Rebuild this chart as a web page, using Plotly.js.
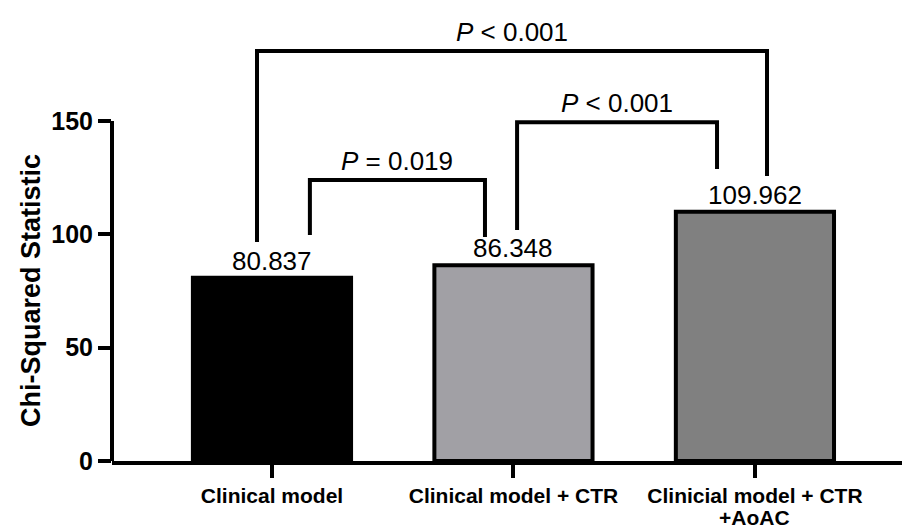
<!DOCTYPE html>
<html>
<head>
<meta charset="utf-8">
<script src="https://cdn.plot.ly/plotly-3.0.1.min.js"></script>
<style>html,body{margin:0;padding:0;background:#fff;}#chart{width:902px;height:529px;}</style>
</head>
<body>
<div id="chart"></div>
<script>
// ---- data ----
const categories = ['Clinical model', 'Clinical model + CTR', 'Clinicial model + CTR<br>+AoAC'];
const values = [80.837, 86.348, 109.962];
const valueLabels = ['80.837', '86.348', '109.962'];
const comparisonPairs = [[0, 1], [1, 2], [0, 2]];
const comparisonLabels = ['<i>P</i> = 0.019', '<i>P</i> &lt; 0.001', '<i>P</i> &lt; 0.001'];
const yTicks = [0, 50, 100, 150];
const yTitle = 'Chi-Squared Statistic';

// ---- styling / geometry ----
const barColors = ['#000000', '#a1a0a5', '#808080'];
const FONT = 'Liberation Sans, Arial, sans-serif';
// bracket geometry: leg offsets (category units) and heights (y units)
const bracketGeom = [
  {lo: 0.157, ro: -0.118, top: 124.0, lb: 99.7, rb: 98.8},
  {lo: 0.015, ro: -0.157, top: 149.5, lb: 101.9, rb: 128.8},
  {lo: -0.062, ro: 0.05, top: 180.9, lb: 96.6, rb: 125.7}
];

const shapes = [];
const annotations = [];

// y axis line only up to 150
shapes.push({type: 'line', xref: 'paper', yref: 'y', x0: 0, x1: 0, y0: -0.9, y1: 150,
  line: {color: '#000', width: 4}});

comparisonPairs.forEach((p, i) => {
  const g = bracketGeom[i];
  const xl = p[0] + g.lo, xr = p[1] + g.ro;
  shapes.push({type: 'path', xref: 'x', yref: 'y',
    path: `M ${xl} ${g.lb} L ${xl} ${g.top} L ${xr} ${g.top} L ${xr} ${g.rb}`,
    line: {color: '#000', width: 4}});
  annotations.push({xref: 'x', yref: 'y', x: (xl + xr) / 2, y: g.top, yanchor: 'bottom',
    yshift: 2, text: comparisonLabels[i], showarrow: false,
    font: {family: FONT, size: 26, color: '#000'}});
});

values.forEach((v, i) => {
  annotations.push({xref: 'x', yref: 'y', x: i, y: v, yanchor: 'bottom', yshift: 0,
    text: valueLabels[i], showarrow: false,
    font: {family: FONT, size: 26, color: '#000'}});
});

// category labels: first line as tick label, following lines as tighter annotations
const tickLines = categories.map(c => c.split('<br>'));
const tickFont = {family: FONT, size: 21, weight: 'bold', color: '#000'};
tickLines.forEach((lines, i) => {
  lines.slice(1).forEach((ln, k) => {
    annotations.push({xref: 'x', yref: 'paper', x: i, y: 0, yanchor: 'middle',
      yshift: -56 - 24 * k, text: ln, showarrow: false, font: tickFont});
  });
});

// y-axis title centred on the 0-150 axis segment
annotations.push({xref: 'paper', yref: 'y', x: 0, y: 75, xanchor: 'center', yanchor: 'middle',
  xshift: -81, textangle: -90, text: yTitle, showarrow: false,
  font: {family: FONT, size: 27, weight: 'bold', color: '#000'}});

const trace = {
  type: 'bar', x: [0, 1, 2], y: values, width: 0.655,
  marker: {color: barColors, line: {color: '#000', width: 4}},
  hoverinfo: 'none'
};

const layout = {
  width: 902, height: 529,
  margin: {l: 112, r: 0, t: 5, b: 68},
  paper_bgcolor: '#fff', plot_bgcolor: '#fff',
  showlegend: false,
  font: {family: FONT, color: '#000'},
  xaxis: {
    range: [-0.6625, 2.609], tickvals: [0, 1, 2], ticktext: tickLines.map(l => l[0]),
    showline: true, linecolor: '#000', linewidth: 4,
    ticks: 'outside', ticklen: 13, tickwidth: 4, tickcolor: '#000',
    showgrid: false, zeroline: false,
    tickfont: tickFont
  },
  yaxis: {
    range: [0, 201.2], tickvals: yTicks, ticktext: yTicks.map(String),
    showline: false, ticks: 'outside', ticklen: 13, tickwidth: 4, tickcolor: '#000',
    showgrid: false, zeroline: false,
    tickfont: {family: FONT, size: 25, weight: 'bold', color: '#000'}
  },
  shapes: shapes,
  annotations: annotations
};

Plotly.newPlot('chart', [trace], layout, {staticPlot: true, displayModeBar: false});
</script>
</body>
</html>
